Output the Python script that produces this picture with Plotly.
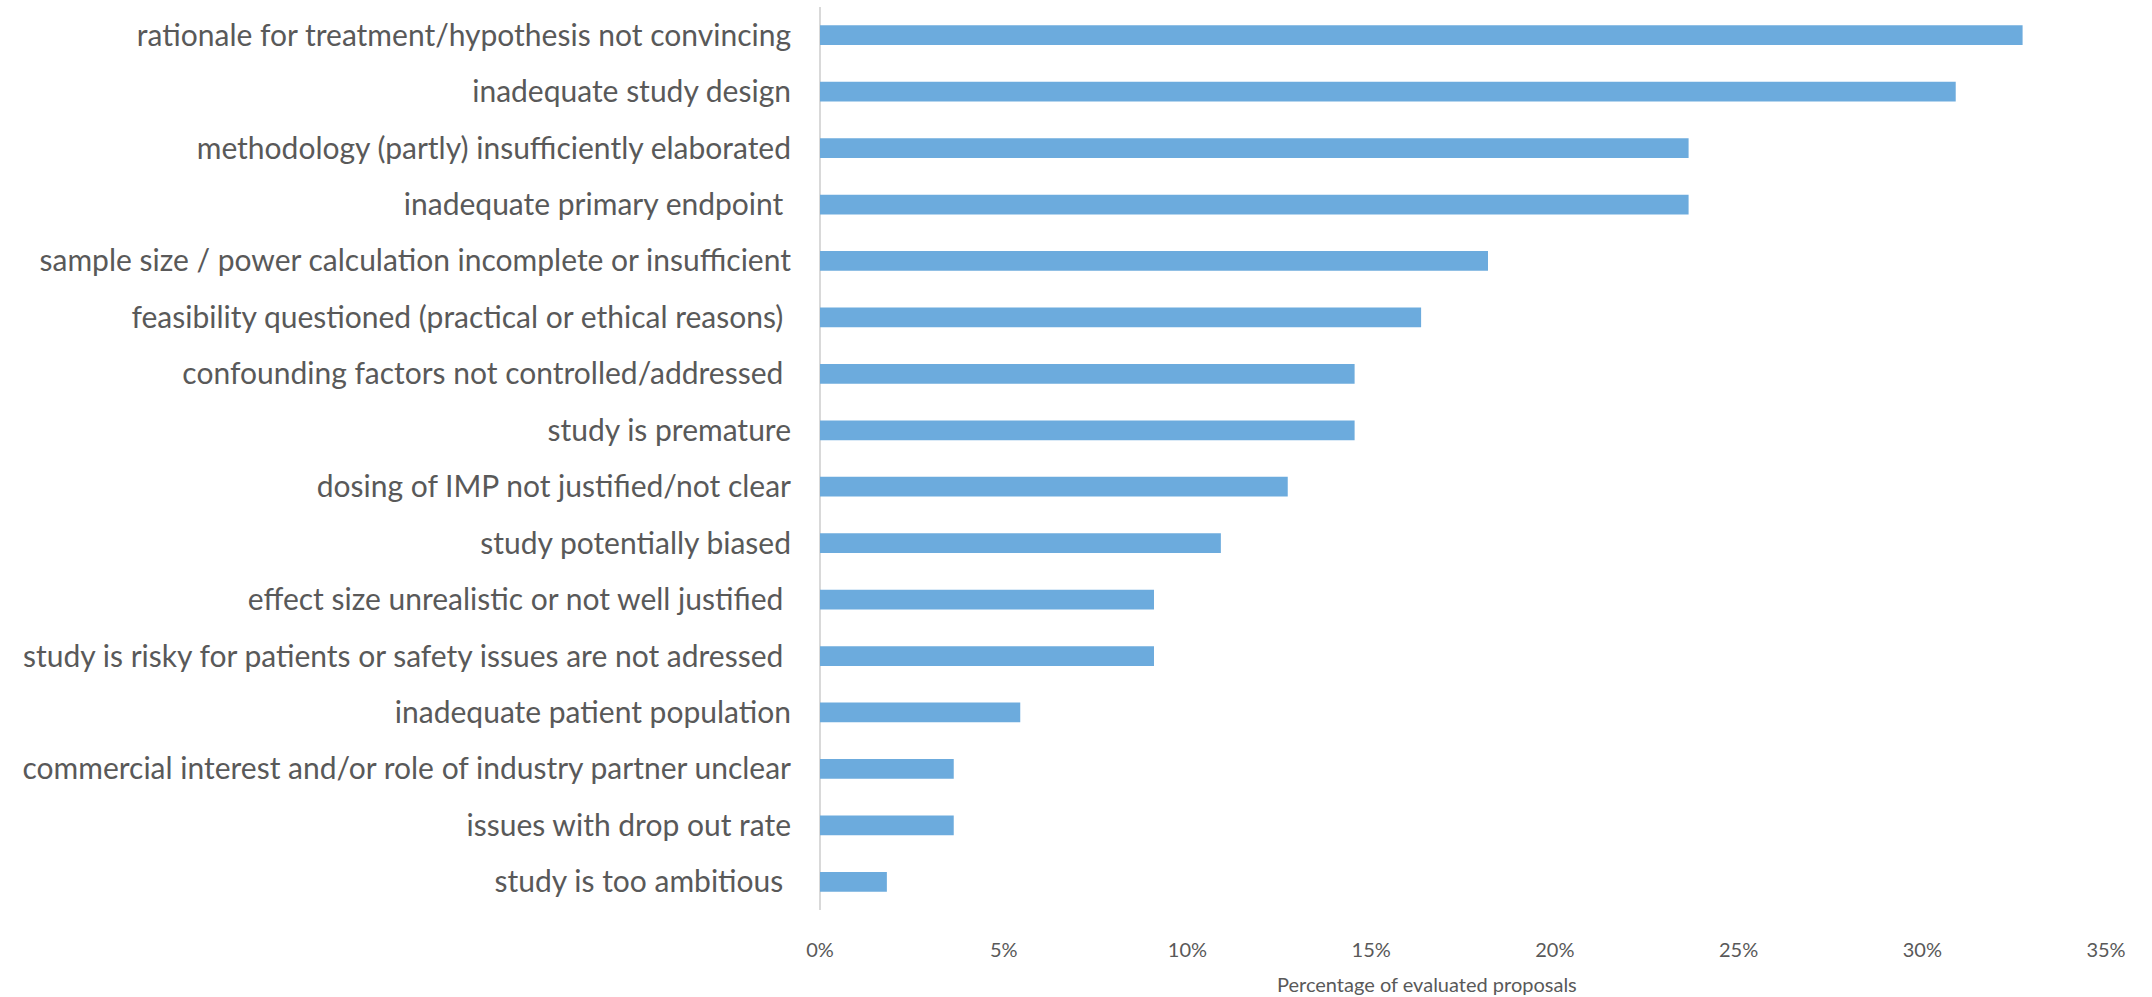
import plotly.graph_objects as go

categories = [
    "rationale for treatment/hypothesis not convincing",
    "inadequate study design",
    "methodology (partly) insufficiently elaborated",
    "inadequate primary endpoint\u00a0",
    "sample size / power calculation incomplete or insufficient",
    "feasibility questioned (practical or ethical reasons)\u00a0",
    "confounding factors not controlled/addressed\u00a0",
    "study is premature",
    "dosing of IMP not justified/not clear",
    "study potentially biased",
    "effect size unrealistic or not well justified\u00a0",
    "study is risky for patients or safety issues are not adressed\u00a0",
    "inadequate patient population",
    "commercial interest and/or role of industry partner unclear",
    "issues with drop out rate",
    "study is too ambitious\u00a0",
]
values = [0.3273, 0.3091, 0.2364, 0.2364, 0.1818, 0.1636, 0.1455, 0.1455,
          0.1273, 0.1091, 0.0909, 0.0909, 0.0545, 0.0364, 0.0364, 0.0182]
tick_vals = [0, 0.05, 0.10, 0.15, 0.20, 0.25, 0.30, 0.35]
tick_text = ["0%", "5%", "10%", "15%", "20%", "25%", "30%", "35%"]
x_title = "Percentage of evaluated proposals"

fig = go.Figure(go.Bar(
    x=values, y=categories, orientation="h",
    marker=dict(color="#6CABDD", line=dict(width=0)),
    width=0.35,
))
fig.update_layout(
    width=2152, height=997,
    margin=dict(l=820, r=46, t=7, b=87),
    plot_bgcolor="white", paper_bgcolor="white",
    font=dict(family="Lato, sans-serif", color="#595959"),
    showlegend=False,
)
fig.update_yaxes(
    autorange="reversed", showgrid=False, zeroline=False,
    showline=False, tickfont=dict(size=30, color="#595959"),
    ticks="", ticklabelstandoff=28,
)
fig.update_xaxes(
    range=[0, 0.35], tickvals=tick_vals, ticktext=tick_text,
    showgrid=False, zeroline=True, zerolinecolor="#D9D9D9", zerolinewidth=1.5,
    showline=False, ticks="", tickfont=dict(size=20, color="#595959"),
    ticklabelstandoff=26,
)
fig.add_annotation(
    text=x_title, xref="paper", yref="paper", x=0.472, y=-0.082,
    xanchor="center", yanchor="middle", showarrow=False,
    font=dict(size=20, color="#595959"),
)
fig.write_html("out.html")
